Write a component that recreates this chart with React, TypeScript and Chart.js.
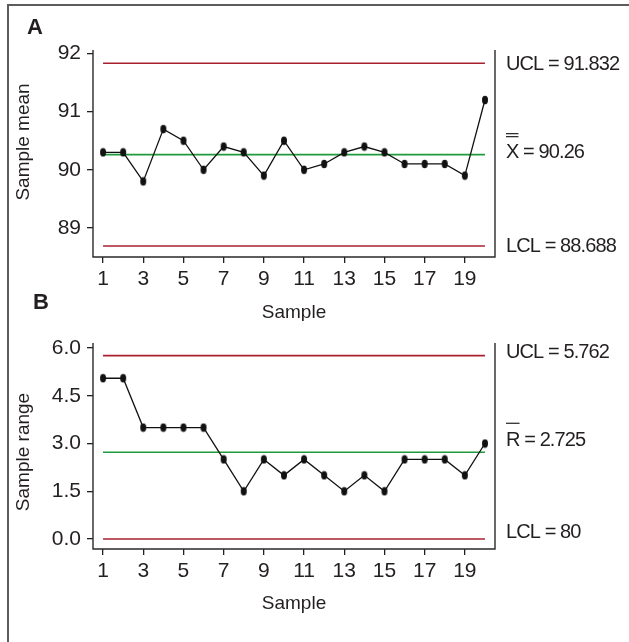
import { useEffect, useRef } from "react";
import { Chart, registerables } from "chart.js";

Chart.register(...registerables);

// Sample numbers along the x axis
const samples = [1, 2, 3, 4, 5, 6, 7, 8, 9, 10, 11, 12, 13, 14, 15, 16, 17, 18, 19, 20];
const sampleTicks = [1, 3, 5, 7, 9, 11, 13, 15, 17, 19];

// X-bar chart: subgroup means and limits
const meanValues = [90.3, 90.3, 89.8, 90.7, 90.5, 90.0, 90.4, 90.3, 89.9, 90.5, 90.0, 90.1, 90.3, 90.4, 90.3, 90.1, 90.1, 90.1, 89.9, 91.2];
const meanUCL = 91.832;
const meanCenter = 90.26;
const meanLCL = 88.688;
const meanTicks = [89, 90, 91, 92];

// R chart: subgroup ranges and limits
const rangeValues = [5.05, 5.05, 3.5, 3.5, 3.5, 3.5, 2.5, 1.5, 2.5, 2.0, 2.5, 2.0, 1.5, 2.0, 1.5, 2.5, 2.5, 2.5, 2.0, 3.0];
const rangeUCL = 5.762;
const rangeCenter = 2.725;
const rangeLCL = 0;
const rangeTicks = [0, 1.5, 3, 4.5, 6];

// Limit labels shown at the right of each panel
const meanLabelTexts = ["UCL = 91.832", "X = 90.26", "LCL = 88.688"];
const rangeLabelTexts = ["UCL = 5.762", "R = 2.725", "LCL = 80"];

const FONT = '"Liberation Sans", Arial, Helvetica, sans-serif';
const INK = "#231f20";
const RED = "#a8202f";
const GREEN = "#1f9a3e";

const W = 629;
const PLOT_LEFT = 93;
const PLOT_RIGHT = 495;

type LimitLabel = { text: string; value: number; dy: number; bars: number[] };

type Panel = {
  letter: string;
  letterX: number;
  letterY: number;
  values: number[];
  ucl: number;
  center: number;
  lcl: number;
  yMin: number;
  yMax: number;
  yTicks: number[];
  decimals: number;
  height: number;
  plotTop: number;
  plotBottom: number;
  yTitle: string;
  yTitleY: number;
  xTitleY: number;
  labels: LimitLabel[];
};

function ellipseDot(): HTMLCanvasElement {
  const c = document.createElement("canvas");
  c.width = 8;
  c.height = 10;
  const g = c.getContext("2d")!;
  g.fillStyle = "#111";
  g.beginPath();
  g.ellipse(4, 5, 3, 4.2, 0, 0, Math.PI * 2);
  g.fill();
  return c;
}

const decorations = {
  id: "decorations",
  afterDraw(chart: any, _args: any, opts: any) {
    const p: Panel = opts.panel;
    const { ctx, chartArea } = chart;
    const { left, right, top, bottom } = chartArea;
    const yScale = chart.scales.y;
    ctx.save();

    // open-topped frame: left, bottom and right sides
    ctx.strokeStyle = "#2a2a2a";
    ctx.lineWidth = 1.4;
    ctx.beginPath();
    ctx.moveTo(left, top);
    ctx.lineTo(left, bottom);
    ctx.lineTo(right, bottom);
    ctx.lineTo(right, top);
    ctx.stroke();

    ctx.fillStyle = INK;
    ctx.textBaseline = "middle";

    // panel letter
    ctx.font = `bold 22px ${FONT}`;
    ctx.textAlign = "left";
    ctx.fillText(p.letter, p.letterX, p.letterY);

    // axis titles
    ctx.font = `19px ${FONT}`;
    ctx.textAlign = "center";
    ctx.fillText("Sample", (left + right) / 2, p.xTitleY);
    ctx.save();
    ctx.translate(24, p.yTitleY);
    ctx.rotate(-Math.PI / 2);
    ctx.fillText(p.yTitle, 0, 0);
    ctx.restore();

    // control limit labels
    ctx.font = `20px ${FONT}`;
    ctx.textAlign = "left";
    (ctx as any).letterSpacing = "-0.9px";
    const lx = right + 11;
    for (const lab of p.labels) {
      const ly = yScale.getPixelForValue(lab.value) + lab.dy;
      ctx.fillText(lab.text, lx, ly);
      if (lab.bars.length) {
        const w = ctx.measureText(lab.text.charAt(0)).width;
        ctx.strokeStyle = INK;
        ctx.lineWidth = 1.2;
        for (const b of lab.bars) {
          ctx.beginPath();
          ctx.moveTo(lx, ly + b);
          ctx.lineTo(lx + w, ly + b);
          ctx.stroke();
        }
      }
    }
    ctx.restore();
  },
};

function limitLine(value: number, color: string) {
  return {
    data: [
      { x: samples[0], y: value },
      { x: samples[samples.length - 1], y: value },
    ],
    borderColor: color,
    borderWidth: 1.6,
    pointRadius: 0,
    fill: false,
    order: 2,
  };
}

function buildConfig(p: Panel, dot: HTMLCanvasElement): any {
  return {
    type: "line",
    data: {
      datasets: [
        limitLine(p.ucl, RED),
        limitLine(p.center, GREEN),
        limitLine(p.lcl, RED),
        {
          data: samples.map((s, i) => ({ x: s, y: p.values[i] })),
          borderColor: "#111",
          borderWidth: 1.3,
          pointStyle: dot,
          pointRadius: 4,
          pointBackgroundColor: "#111",
          fill: false,
          order: 1,
        },
      ],
    },
    options: {
      responsive: false,
      animation: false,
      devicePixelRatio: 1,
      layout: {
        padding: { left: 0, top: p.plotTop, right: W - PLOT_RIGHT, bottom: 0 },
      },
      plugins: {
        legend: { display: false },
        tooltip: { enabled: false },
        title: { display: false },
        decorations: { panel: p },
      },
      scales: {
        x: {
          type: "linear",
          min: 0.5,
          max: 20.5,
          bounds: "data",
          border: { display: false },
          grid: {
            display: true,
            drawOnChartArea: false,
            drawTicks: true,
            tickLength: 6,
            color: INK,
            lineWidth: 1.3,
          },
          ticks: {
            color: INK,
            font: { family: FONT, size: 21 },
            padding: 4,
            maxRotation: 0,
            autoSkip: false,
          },
          afterBuildTicks: (scale: any) => {
            scale.ticks = sampleTicks.map((v) => ({ value: v }));
          },
          afterFit: (scale: any) => {
            scale.height = p.height - p.plotBottom;
          },
        },
        y: {
          type: "linear",
          min: p.yMin,
          max: p.yMax,
          bounds: "data",
          border: { display: false },
          grid: {
            display: true,
            drawOnChartArea: false,
            drawTicks: true,
            tickLength: 6,
            color: INK,
            lineWidth: 1.3,
          },
          ticks: {
            color: INK,
            font: { family: FONT, size: 21 },
            padding: 6,
            autoSkip: false,
            callback: (v: any) => Number(v).toFixed(p.decimals),
          },
          afterBuildTicks: (scale: any) => {
            scale.ticks = p.yTicks.map((v) => ({ value: v }));
          },
          afterFit: (scale: any) => {
            scale.width = PLOT_LEFT;
          },
        },
      },
    },
    plugins: [decorations],
  };
}

const meanPanel: Panel = {
  letter: "A",
  letterX: 27,
  letterY: 28,
  values: meanValues,
  ucl: meanUCL,
  center: meanCenter,
  lcl: meanLCL,
  yMin: 88.5,
  yMax: 92.06,
  yTicks: meanTicks,
  decimals: 0,
  height: 321,
  plotTop: 50,
  plotBottom: 257,
  yTitle: "Sample mean",
  yTitleY: 142,
  xTitleY: 313,
  labels: [
    { text: meanLabelTexts[0], value: meanUCL, dy: 1, bars: [] },
    { text: meanLabelTexts[1], value: meanCenter, dy: -2.5, bars: [-18.5, -15.5] },
    { text: meanLabelTexts[2], value: meanLCL, dy: 0, bars: [] },
  ],
};

const rangePanel: Panel = {
  letter: "B",
  letterX: 33,
  letterY: 18,
  values: rangeValues,
  ucl: rangeUCL,
  center: rangeCenter,
  lcl: rangeLCL,
  yMin: -0.313,
  yMax: 6.157,
  yTicks: rangeTicks,
  decimals: 1,
  height: 357,
  plotTop: 58,
  plotBottom: 264,
  yTitle: "Sample range",
  yTitleY: 167,
  xTitleY: 319,
  labels: [
    { text: rangeLabelTexts[0], value: rangeUCL, dy: -3, bars: [] },
    { text: rangeLabelTexts[1], value: rangeCenter, dy: -12, bars: [-17] },
    { text: rangeLabelTexts[2], value: rangeLCL, dy: -7, bars: [] },
  ],
};

export default function App() {
  const refA = useRef<HTMLCanvasElement | null>(null);
  const refB = useRef<HTMLCanvasElement | null>(null);

  useEffect(() => {
    const dot = ellipseDot();
    const a = new Chart(refA.current!, buildConfig(meanPanel, dot));
    const b = new Chart(refB.current!, buildConfig(rangePanel, dot));
    return () => {
      a.destroy();
      b.destroy();
    };
  }, []);

  return (
    <div
      style={{
        position: "absolute",
        left: 0,
        top: 0,
        width: W,
        height: 642,
        overflow: "hidden",
        background: "#fff",
      }}
    >
      <div
        style={{
          position: "absolute",
          left: 7,
          top: 4,
          width: 700,
          height: 700,
          borderTop: "2px solid #5c5c5c",
          borderLeft: "2px solid #5c5c5c",
        }}
      />
      <canvas
        ref={refA}
        width={W}
        height={meanPanel.height}
        style={{ position: "absolute", left: 0, top: 0, width: W, height: meanPanel.height }}
      />
      <canvas
        ref={refB}
        width={W}
        height={rangePanel.height}
        style={{ position: "absolute", left: 0, top: 285, width: W, height: rangePanel.height }}
      />
    </div>
  );
}
